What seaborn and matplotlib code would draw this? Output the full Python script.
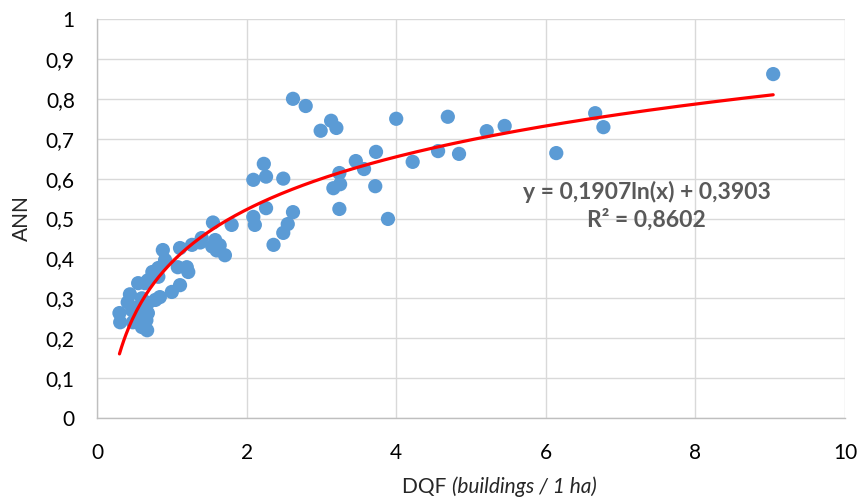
import numpy as np
import pandas as pd
import matplotlib
matplotlib.use("Agg")
import matplotlib.pyplot as plt
import seaborn as sns
from matplotlib.ticker import FuncFormatter, MultipleLocator

# точки DQF / ANN
dqf = [0.30, 0.31, 0.44, 0.41, 0.47, 0.48, 0.60, 0.67, 0.68, 0.66, 0.55, 0.64,
       0.68, 0.74, 0.82, 0.88, 0.91, 0.84, 1.00, 1.11, 1.20, 1.22, 1.08, 1.11,
       1.27, 1.40, 1.38, 1.54, 0.60, 0.78, 0.68, 0.55, 0.82, 0.64, 0.53,
       1.55, 1.58, 1.64, 1.60, 1.71, 1.80, 2.09, 2.11, 2.09, 2.23, 2.26, 2.49,
       2.26, 2.62, 2.55, 2.49, 2.36, 2.62, 2.79, 2.99, 3.13, 3.20, 3.16, 3.25,
       3.24, 3.24, 3.46, 3.57, 3.73, 3.72, 3.89, 4.00, 4.22, 4.56, 4.69, 4.84,
       5.21, 5.45, 6.14, 6.66, 6.77, 9.04]
ann = [0.263, 0.240, 0.310, 0.290, 0.270, 0.240, 0.228, 0.220, 0.263, 0.245, 0.278, 0.338,
       0.345, 0.366, 0.376, 0.421, 0.396, 0.303, 0.316, 0.333, 0.378, 0.366, 0.378, 0.426,
       0.434, 0.451, 0.440, 0.430, 0.300, 0.296, 0.288, 0.338, 0.354, 0.253, 0.263,
       0.490, 0.446, 0.433, 0.420, 0.408, 0.484, 0.504, 0.484, 0.597, 0.637, 0.605, 0.600,
       0.526, 0.516, 0.486, 0.464, 0.434, 0.800, 0.782, 0.720, 0.745, 0.727, 0.576, 0.586,
       0.614, 0.524, 0.644, 0.624, 0.667, 0.581, 0.499, 0.750, 0.642, 0.669, 0.755, 0.662,
       0.719, 0.732, 0.664, 0.764, 0.729, 0.862]

# логарифмический тренд из подписи
coef_a = 0.1907
coef_b = 0.3903
r2 = 0.8602

df = pd.DataFrame({"DQF": dqf, "ANN": ann})
xt = np.linspace(min(dqf), max(dqf), 300)
trend = pd.DataFrame({"x": xt, "y": coef_a * np.log(xt) + coef_b})

sns.set_style("white")
plt.rcParams['font.family'] = ['Lato', 'DejaVu Sans']

fig, ax = plt.subplots(figsize=(8.57, 4.98), dpi=100)
fig.subplots_adjust(left=0.1132, right=0.986, bottom=0.1606, top=0.9618)

sns.scatterplot(data=df, x="DQF", y="ANN", ax=ax, color="#5B9BD5", s=105,
                edgecolor="none", zorder=3)
sns.lineplot(data=trend, x="x", y="y", ax=ax, color="#FF0000", linewidth=2.3,
             zorder=4)

ax.set_xlim(0, 10)
ax.set_ylim(0, 1)
ax.xaxis.set_major_locator(MultipleLocator(2))
ax.yaxis.set_major_locator(MultipleLocator(0.1))
ax.yaxis.set_major_formatter(FuncFormatter(lambda v, p: ("%g" % round(v, 1)).replace(".", ",")))
ax.grid(True, color="#D9D9D9", linewidth=1.0)
ax.set_axisbelow(True)
for s in ["top", "right"]:
    ax.spines[s].set_visible(False)
for s in ["left", "bottom"]:
    ax.spines[s].set_color("#BFBFBF")
    ax.spines[s].set_linewidth(1.0)
ax.tick_params(length=0, labelsize=15, colors="#000000")
ax.tick_params(axis="y", pad=16)
ax.tick_params(axis="x", pad=18)

ax.set_ylabel("ANN", fontsize=15, labelpad=10)
ax.set_xlabel("")

# подпись оси X: обычная часть + курсив
fig.text(0.527, 0.011, "DQF ", ha="right", va="baseline", fontsize=15)
fig.text(0.527, 0.011, "(buildings / 1 ha)", ha="left", va="baseline",
         fontsize=15, style="italic")

ax.text(7.35, 0.531, "y = 0,1907ln(x) + 0,3903\nR² = 0,8602", ha="center", va="center",
        fontsize=16.5, fontweight="bold", color="#595959", linespacing=1.3)

fig.savefig("out.png", dpi=100)
